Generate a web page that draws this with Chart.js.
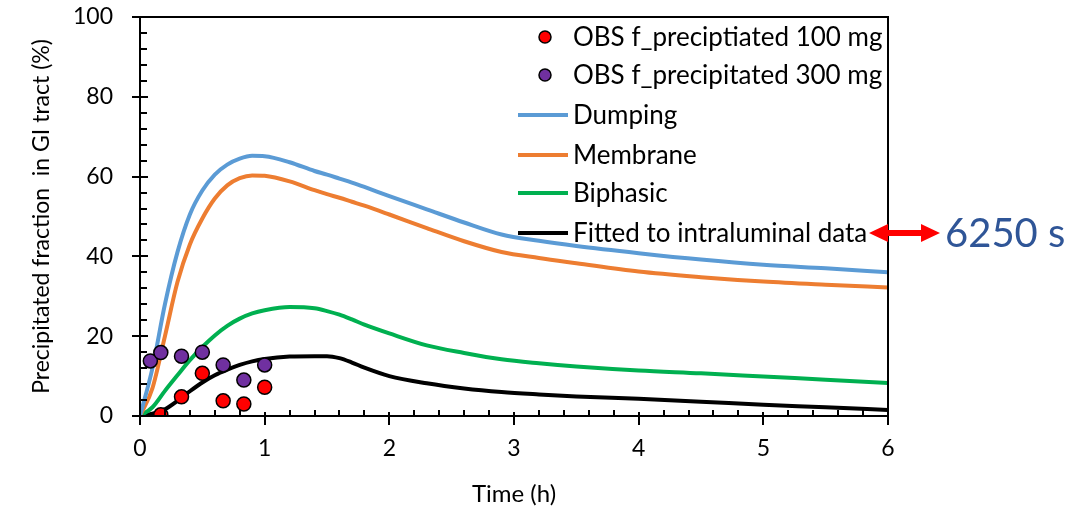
<!DOCTYPE html>
<html>
<head>
<meta charset="utf-8">
<script src="https://cdn.jsdelivr.net/npm/chart.js@4.4.0/dist/chart.umd.min.js"></script>
<style>
  html, body { margin: 0; padding: 0; background: #fff; }
  #wrap { width: 1079px; height: 509px; position: relative; }
</style>
</head>
<body>
<div id="wrap"><canvas id="c" width="1079" height="509"></canvas></div>
<script>
// ---- data ----
const obsTime100 = [0.167, 0.333, 0.5, 0.667, 0.833, 1.0];
const obs100 = [0.3, 4.8, 10.7, 3.8, 3.0, 7.2];
const obsTime300 = [0.083, 0.167, 0.333, 0.5, 0.667, 0.833, 1.0];
const obs300 = [13.8, 15.9, 15.0, 16.0, 12.8, 9.0, 12.8];

const timeH = [0, 0.1, 0.2, 0.3, 0.4, 0.5, 0.6, 0.7, 0.8, 0.9, 1.0, 1.2, 1.4, 1.5, 1.6, 1.7, 1.8, 2.0, 2.3, 2.6, 2.9, 3.2, 3.5, 4, 4.5, 5, 5.5, 6];
const dumping = [0, 12, 28, 41, 50.5, 56.5, 60.5, 63.0, 64.5, 65.2, 65.1, 63.6, 61.4, 60.5, 59.5, 58.5, 57.4, 55.1, 51.8, 48.5, 45.5, 43.9, 42.6, 40.8, 39.2, 37.9, 37.0, 36.0];
const membrane = [0, 7, 20, 33.5, 43, 49.5, 54.5, 57.8, 59.6, 60.3, 60.2, 58.8, 56.6, 55.6, 54.7, 53.7, 52.7, 50.5, 47.1, 43.8, 41.1, 39.6, 38.3, 36.2, 34.8, 33.7, 32.9, 32.2];
const biphasic = [0, 2.2, 6.3, 10.2, 14.0, 17.3, 20.2, 22.6, 24.4, 25.7, 26.5, 27.3, 27.0, 26.3, 25.4, 24.2, 22.9, 20.7, 17.7, 15.8, 14.2, 13.2, 12.4, 11.4, 10.7, 9.9, 9.1, 8.3];
const fitted = [0, 0.6, 1.7, 3.8, 6.2, 8.4, 10.2, 11.6, 12.8, 13.7, 14.3, 14.9, 15.0, 15.0, 14.5, 13.4, 12.1, 10.0, 8.2, 6.9, 6.0, 5.4, 4.9, 4.3, 3.6, 2.8, 2.2, 1.5];

const xTicks = [0, 1, 2, 3, 4, 5, 6];
const yTicks = [0, 20, 40, 60, 80, 100];
const seriesNames = ['OBS f_preciptiated 100 mg', 'OBS f_precipitated 300 mg', 'Dumping', 'Membrane', 'Biphasic', 'Fitted to intraluminal data'];
const xTitle = 'Time (h)';
const yTitle = 'Precipitated fraction  in GI tract (%)';
const annotationText = '6250 s';

const FONT = 'Lato, "Open Sans", sans-serif';
const pts = (xs, ys) => xs.map((x, i) => ({ x: x, y: ys[i] }));

const lineDs = (label, ys, color) => ({
  type: 'line', label: label, data: pts(timeH, ys), borderColor: color, backgroundColor: color,
  borderWidth: 4, pointRadius: 0, cubicInterpolationMode: 'monotone', fill: false, order: 2
});
const dotDs = (label, xs, ys, color) => ({
  type: 'scatter', label: label, data: pts(xs, ys), backgroundColor: color, borderColor: '#000',
  borderWidth: 1.5, pointRadius: 7, showLine: false, order: 1
});

const decor = {
  id: 'decor',
  afterDraw(chart) {
    const ctx = chart.ctx, a = chart.chartArea;
    const xs = chart.scales.x, ys = chart.scales.y;
    ctx.save();
    ctx.strokeStyle = '#000';
    ctx.lineWidth = 2;
    ctx.lineCap = 'butt';
    ctx.beginPath();
    ctx.moveTo(a.left, a.bottom); ctx.lineTo(a.left, a.top); ctx.lineTo(a.right, a.top); ctx.lineTo(a.right, a.bottom); ctx.lineTo(a.left, a.bottom);
    ctx.stroke();
    ctx.beginPath();
    for (let v = 0; v <= 6.0001; v += 0.2) {
      const px = Math.round(xs.getPixelForValue(v));
      const major = Math.abs(v - Math.round(v)) < 1e-6;
      if (major) { ctx.moveTo(px, a.bottom - 4); ctx.lineTo(px, a.bottom + 9); }
      else { ctx.moveTo(px, a.bottom - 6); ctx.lineTo(px, a.bottom); }
    }
    for (let v = 0; v <= 100.001; v += 4) {
      const py = Math.round(ys.getPixelForValue(v));
      const major = v % 20 === 0;
      if (major) { ctx.moveTo(a.left - 8, py); ctx.lineTo(a.left + 8, py); }
      else { ctx.moveTo(a.left, py); ctx.lineTo(a.left + 7, py); }
    }
    ctx.stroke();

    ctx.fillStyle = '#000';
    ctx.font = '24px ' + FONT;
    ctx.textAlign = 'center';
    ctx.textBaseline = 'middle';
    ctx.fillText(xTitle, (a.left + a.right) / 2, 494);
    ctx.save();
    ctx.font = '23px ' + FONT;
    ctx.translate(42, (a.top + a.bottom) / 2);
    ctx.rotate(-Math.PI / 2);
    ctx.fillText(yTitle, 0, 0);
    ctx.restore();

    const rows = [37, 75, 115, 155, 193, 233];
    ctx.font = '26px ' + FONT;
    ctx.textAlign = 'left';
    ctx.textBaseline = 'middle';
    chart.data.datasets.forEach((ds, i) => {
      const y = rows[i];
      if (ds.type === 'scatter') {
        ctx.beginPath();
        ctx.arc(545, y, 6, 0, Math.PI * 2);
        ctx.fillStyle = ds.backgroundColor; ctx.fill();
        ctx.lineWidth = 1.5; ctx.strokeStyle = '#000'; ctx.stroke();
      } else {
        ctx.beginPath();
        ctx.moveTo(518, y); ctx.lineTo(568, y);
        ctx.lineWidth = 4; ctx.strokeStyle = ds.borderColor; ctx.stroke();
      }
      ctx.fillStyle = '#000';
      ctx.fillText(ds.label, 573, y + 1);
    });

    const ay = 233, ax1 = 869, ax2 = 940;
    ctx.fillStyle = '#FF0000';
    ctx.beginPath();
    ctx.moveTo(ax1, ay); ctx.lineTo(ax1 + 19, ay - 9); ctx.lineTo(ax1 + 19, ay - 3);
    ctx.lineTo(ax2 - 19, ay - 3); ctx.lineTo(ax2 - 19, ay - 9); ctx.lineTo(ax2, ay);
    ctx.lineTo(ax2 - 19, ay + 9); ctx.lineTo(ax2 - 19, ay + 3); ctx.lineTo(ax1 + 19, ay + 3);
    ctx.lineTo(ax1 + 19, ay + 9); ctx.closePath();
    ctx.fill();
    ctx.fillStyle = '#2F5597';
    ctx.font = '40px ' + FONT;
    ctx.textAlign = 'left';
    ctx.fillText(annotationText, 945, ay + 1);
    ctx.restore();
  }
};

new Chart(document.getElementById('c'), {
  data: {
    datasets: [
      dotDs(seriesNames[0], obsTime100, obs100, '#FF0000'),
      dotDs(seriesNames[1], obsTime300, obs300, '#7030A0'),
      lineDs(seriesNames[2], dumping, '#5B9BD5'),
      lineDs(seriesNames[3], membrane, '#ED7D31'),
      lineDs(seriesNames[4], biphasic, '#00B050'),
      lineDs(seriesNames[5], fitted, '#000000')
    ]
  },
  options: {
    responsive: false,
    animation: false,
    layout: { padding: { left: 0, right: 191, top: 17, bottom: 0 } },
    plugins: { legend: { display: false }, tooltip: { enabled: false } },
    scales: {
      x: {
        type: 'linear', min: 0, max: 6,
        afterBuildTicks: (s) => { s.ticks = xTicks.map(v => ({ value: v })); },
        afterFit: (s) => { s.height = 93; s.paddingLeft = 0; s.paddingRight = 0; },
        ticks: { color: '#000', font: { family: FONT, size: 23 }, padding: 19 },
        grid: { display: false, drawTicks: false },
        border: { display: false }
      },
      y: {
        min: 0, max: 100,
        afterBuildTicks: (s) => { s.ticks = yTicks.map(v => ({ value: v })); },
        afterFit: (s) => { s.width = 140; s.paddingTop = 0; s.paddingBottom = 0; },
        ticks: { color: '#000', font: { family: FONT, size: 23 }, padding: 27 },
        grid: { display: false, drawTicks: false },
        border: { display: false }
      }
    }
  },
  plugins: [decor]
});
</script>
</body>
</html>
